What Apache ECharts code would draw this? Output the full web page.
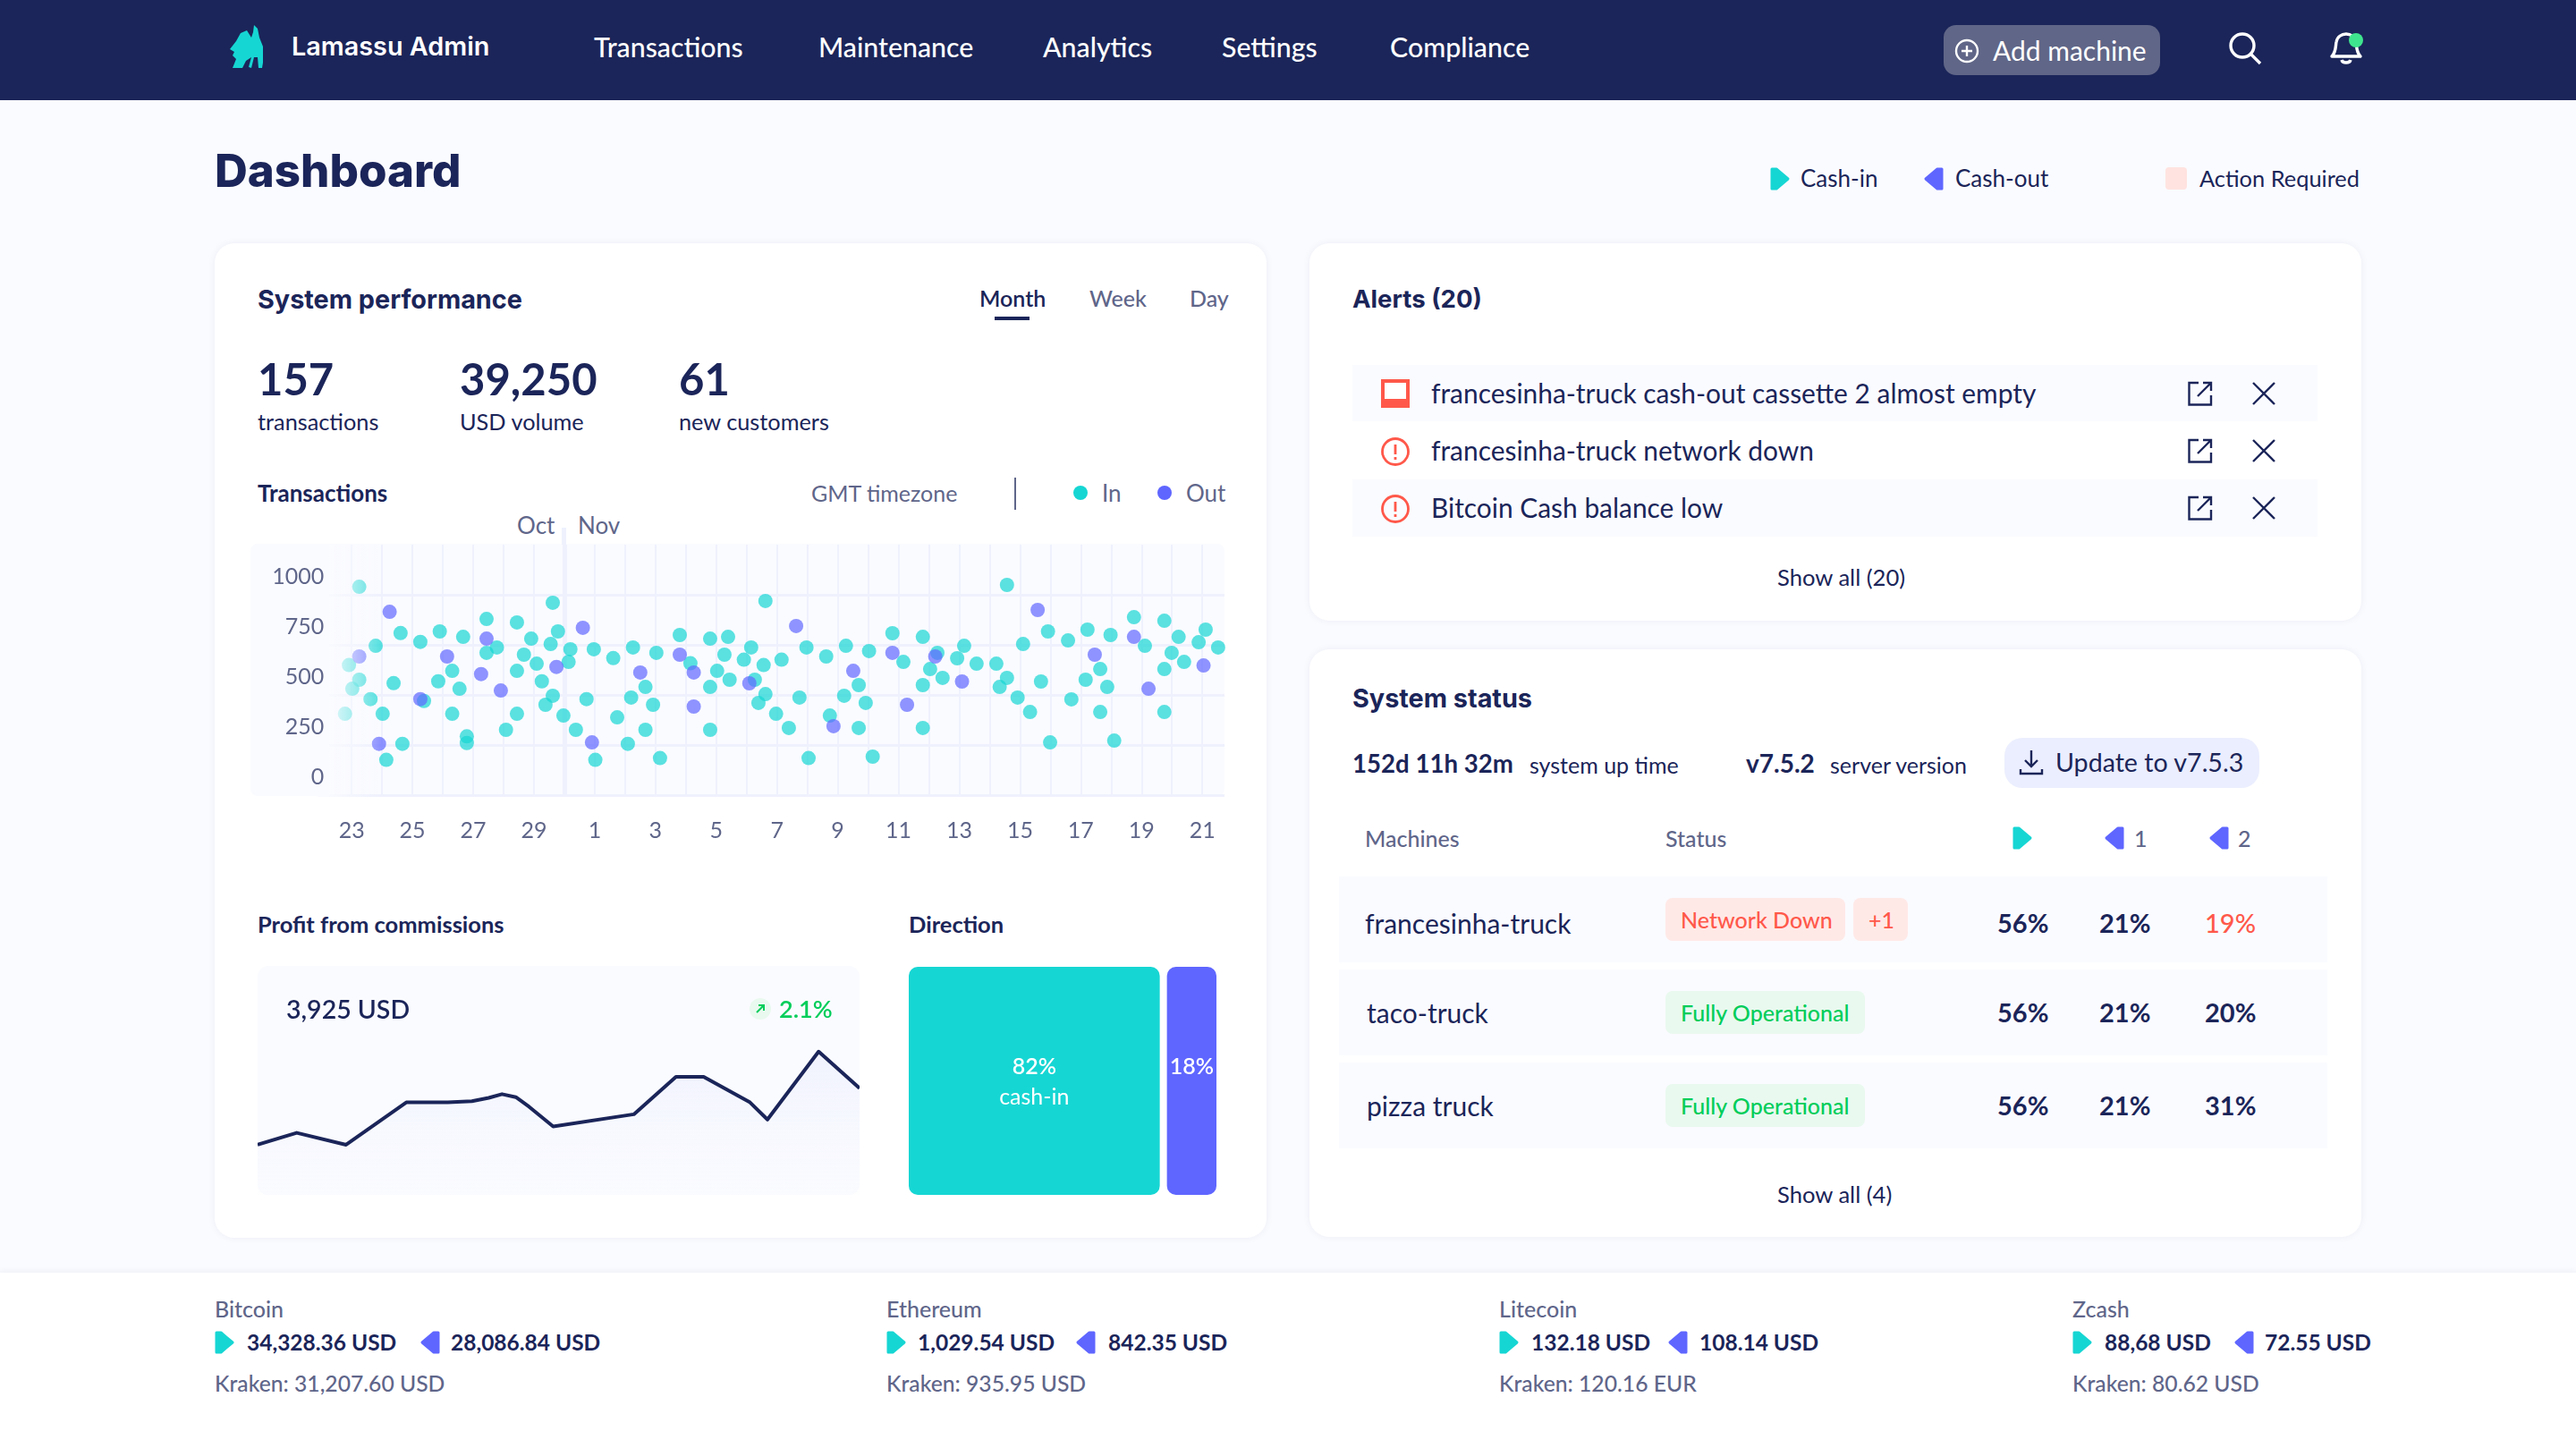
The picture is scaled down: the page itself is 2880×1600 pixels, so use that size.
<!DOCTYPE html>
<html><head><meta charset="utf-8">
<script src="https://cdn.jsdelivr.net/npm/echarts@6/dist/echarts.min.js"></script>
<style>
html,body{margin:0;padding:0;width:2880px;height:1600px;overflow:hidden;background:#fafbff;font-family:"Lato",sans-serif;color:#1b2559}
#root{position:absolute;left:0;top:0;width:2880px;height:1600px}
.b{position:absolute}
.t{position:absolute;white-space:nowrap;transform:translateY(-50%);line-height:1.2}
.card{position:absolute;background:#fff;border-radius:22px;box-shadow:0 0 8px rgba(27,37,89,.06)}
svg{position:absolute;overflow:visible}
</style></head><body><div id="root"></div>
<div id="scatterChart" class="b" style="left:270px;top:570px;width:1120px;height:400px;z-index:5"></div>
<div id="profitChart" class="b" style="left:288px;top:1080px;width:673px;height:256px;z-index:5"></div>
<div id="directionChart" class="b" style="left:1016px;top:1081px;width:344px;height:255px;z-index:5"></div>
<script>
// ---- data ----
const navItems = ['Transactions','Maintenance','Analytics','Settings','Compliance'];
const yTicks = [0,250,500,750,1000];
const dayLabels = ['23','25','27','29','1','3','5','7','9','11','13','15','17','19','21'];
const cashIn = [[-0.22,406],[-0.09,649],[0.02,531],[0.25,1040],[0.25,576],[0.62,479],[0.79,745],[1.02,406],[1.14,176],[1.38,559],[1.61,809],[1.67,256],[2.26,765],[2.38,470],[2.85,568],[2.90,817],[3.31,620],[3.31,406],[3.55,531],[3.67,790],[3.79,293],[3.79,260],[4.44,879],[4.44,710],[4.78,737],[5.08,326],[5.44,862],[5.44,620],[5.44,406],[5.67,701],[5.91,781],[6.09,656],[6.26,568],[6.38,451],[6.55,754],[6.62,960],[6.62,496],[6.79,817],[6.97,397],[7.14,665],[7.20,728],[7.38,326],[7.73,479],[7.97,728],[8.02,176],[8.61,684],[8.74,388],[9.09,256],[9.20,487],[9.26,737],[9.67,540],[9.67,326],[9.92,451],[10.03,710],[10.15,185],[10.80,799],[11.15,658],[11.80,781],[11.80,540],[11.80,326],[12.03,620],[12.27,701],[12.39,790],[12.44,576],[12.91,676],[13.15,737],[13.27,576],[13.39,460],[13.56,649],[13.62,969],[13.62,504],[13.97,406],[14.15,676],[14.39,335],[14.74,487],[14.97,737],[15.04,185],[15.62,692],[15.74,397],[16.21,496],[16.27,745],[16.69,549],[16.69,335],[16.92,460],[17.03,719],[17.15,192],[17.80,808],[18.16,665],[18.80,790],[18.80,549],[18.80,335],[19.04,629],[19.28,710],[19.45,585],[19.93,683],[20.16,745],[20.57,656],[21.22,656],[21.33,540],[21.57,1049],[21.57,585],[21.92,487],[22.10,754],[22.33,415],[22.69,567],[22.92,817],[22.99,263],[23.58,772],[23.69,478],[24.16,576],[24.22,826],[24.64,629],[24.64,415],[24.87,540],[24.98,799],[25.10,272],[25.75,888],[26.11,745],[26.75,870],[26.75,629],[26.75,415],[26.99,710],[27.22,790],[27.40,665],[27.88,763],[28.11,826],[28.52,737]];
const cashOut = [[0.25,692],[0.90,256],[1.25,915],[2.26,479],[3.14,692],[4.26,604],[4.44,781],[4.91,522],[6.74,640],[7.61,835],[7.91,263],[9.50,612],[10.80,701],[11.26,612],[11.26,442],[13.09,558],[14.63,844],[15.86,344],[16.51,620],[17.80,710],[18.28,451],[19.21,692],[20.09,567],[22.58,924],[24.46,701],[25.75,790],[26.23,531],[28.04,647]];
const monthBoundaryDay = 7;
const profitX = [0,6.5,14.7,24.7,31.6,35.6,38.4,40.6,42.9,45.1,49.1,62.5,69.5,74.1,81.8,84.7,93.2,100];
const profitY = [21.9,27.1,21.9,40.4,40.4,40.9,42.4,44,42.7,38.5,29.9,35.2,51.6,51.6,40.4,32.9,62.6,46.6];
const directionNames = ['cash-in','cash-out'];
const directionValues = [82,18];
const coins = [
 {name:'Bitcoin',x:240,inX:276,outIcon:471,outX:504,cin:'34,328.36 USD',cout:'28,086.84 USD',kraken:'Kraken: 31,207.60 USD'},
 {name:'Ethereum',x:991,inX:1026,outIcon:1204,outX:1239,cin:'1,029.54 USD',cout:'842.35 USD',kraken:'Kraken: 935.95 USD'},
 {name:'Litecoin',x:1676,inX:1712,outIcon:1866,outX:1900,cin:'132.18 USD',cout:'108.14 USD',kraken:'Kraken: 120.16 EUR'},
 {name:'Zcash',x:2317,inX:2353,outIcon:2499,outX:2532,cin:'88,68 USD',cout:'72.55 USD',kraken:'Kraken: 80.62 USD'}];
const machines = [
 {name:'francesinha-truck',x:1526,cy:1032,c0:'56%',c1:'21%',c2:'19%'},
 {name:'taco-truck',x:1528,cy:1132,c0:'56%',c1:'21%',c2:'20%'},
 {name:'pizza truck',x:1528,cy:1236,c0:'56%',c1:'21%',c2:'31%'}];
const alerts = ['francesinha-truck cash-out cassette 2 almost empty','francesinha-truck network down','Bitcoin Cash balance low'];

// ---- colours ----
const NAVY='#1b2559',GREY='#5f668a',TEAL='#16d6d3',BLUE='#5f66ff',RED='#ff584a',GREEN='#00cd5a',PANEL='#fafbff',LINE='#eff1fd';
const HEAD='font-family:Inter;';
const root=document.getElementById('root');
function box(x,y,w,h,bg,r,extra){const d=document.createElement('div');d.className='b';d.style.cssText=`left:${x}px;top:${y}px;width:${w}px;height:${h}px;background:${bg};border-radius:${r||0}px;${extra||''}`;root.appendChild(d);return d;}
function card(x,y,w,h){const d=document.createElement('div');d.className='card';d.style.cssText=`left:${x}px;top:${y}px;width:${w}px;height:${h}px`;root.appendChild(d);}
function txt(x,cy,s,size,weight,color,extra){const d=document.createElement('div');d.className='t';d.textContent=s;d.style.cssText=`left:${x}px;top:${cy}px;font-size:${size}px;font-weight:${weight||400};color:${color||NAVY};${extra||''}`;root.appendChild(d);return d;}
function svg(x,y,w,h,inner){const s=document.createElement('div');s.className='b';s.style.cssText=`left:${x}px;top:${y}px;width:${w}px;height:${h}px`;s.innerHTML=`<svg width="${w}" height="${h}" viewBox="0 0 ${w} ${h}" style="left:0;top:0">${inner}</svg>`;root.appendChild(s);return s;}
function triIn(x,cy){svg(x,cy-13,22,26,`<path d="M2 2 L7 2 L20 13 L7 24 L2 24 Z" fill="${TEAL}" stroke="${TEAL}" stroke-width="3" stroke-linejoin="round"/>`);}
function triOut(x,cy){svg(x,cy-13,22,26,`<path d="M20 2 L15 2 L2 13 L15 24 L20 24 Z" fill="${BLUE}" stroke="${BLUE}" stroke-width="3" stroke-linejoin="round"/>`);}
function extIcon(x,cy){svg(x-14,cy-14,28,28,`<path d="M12 2 H1.5 V26.5 H26 V16" fill="none" stroke="${NAVY}" stroke-width="2.4"/><path d="M11 17 L25 3 M17 2 H26 V11" fill="none" stroke="${NAVY}" stroke-width="2.4"/>`);}
function xIcon(x,cy){svg(x-14,cy-14,28,28,`<path d="M2 2 L26 26 M26 2 L2 26" stroke="${NAVY}" stroke-width="2.4"/>`);}
function warnIcon(x,cy){svg(x-16,cy-16,32,32,`<circle cx="16" cy="16" r="14.5" fill="none" stroke="${RED}" stroke-width="2.8"/><path d="M16 8 V19 M16 22 V25" stroke="${RED}" stroke-width="2.8"/>`);}

// ---- nav ----
box(0,0,2880,112,NAVY);
svg(257,28,38,48,`<path d="M27 0 L31 4 L33 14 L37 24 L37 42 L36 48 L32 48 L31 36 L27 36 L24 48 L21 47 L24 36 L18 40 L14 48 L3 48 L7 38 L3 34 L5 30 L0 27 L7 18 L12 9 L19 6 L24 14 L26 8 Z" fill="${TEAL}"/>`);
txt(326,52,'Lamassu Admin',28.8,600,'#fff',HEAD);
[664,915,1166,1366,1554].forEach((x,i)=>txt(x,52,navItems[i],30.3,500,'#fff'));
box(2173,28,242,56,'#606687',14);
svg(2185,43,28,28,`<circle cx="14" cy="14" r="12" fill="none" stroke="#fff" stroke-width="2.4"/><path d="M14 8 V20 M8 14 H20" stroke="#fff" stroke-width="2.4"/>`);
txt(2228,56,'Add machine',30,400,'#fff');
svg(2492,36,38,38,`<circle cx="15" cy="15" r="13" fill="none" stroke="#fff" stroke-width="3.4"/><path d="M25 25 L35 35" stroke="#fff" stroke-width="3.4"/>`);
svg(2604,34,40,40,`<path d="M3 29 C8 24 7 18 8 13 C9 7 14 4 19 4 C24 4 29 7 30 13 C31 18 30 24 35 29 Z" fill="none" stroke="#fff" stroke-width="3.4" stroke-linejoin="round"/><path d="M14 33 C15 37 23 37 24 33" fill="none" stroke="#fff" stroke-width="3.4"/><circle cx="30" cy="11" r="8" fill="#3fe58e"/>`);

// ---- title + key ----
txt(240,191,'Dashboard',51,800,NAVY,HEAD);
triIn(1979,200);txt(2013,200,'Cash-in',26,400);
triOut(2151,200);txt(2186,200,'Cash-out',26,400);
box(2421,187,24,25,'#ffe3e0',4);txt(2459,199,'Action Required',25.4,400);

// ---- cards ----
card(240,272,1176,1112);card(1464,272,1176,422);card(1464,726,1176,657);

// ---- system performance ----
txt(288,335,'System performance',28.8,700,NAVY,HEAD);
txt(1095,333,'Month',25,600);txt(1218,333,'Week',25,500,GREY);txt(1330,333,'Day',25,500,GREY);
box(1112,354,39,4,NAVY);
txt(288,423,'157',49,700);txt(514,423,'39,250',49,700);txt(759,423,'61',49,700);
txt(288,471,'transactions',25.3);txt(514,471,'USD volume',25.3);txt(759,471,'new customers',25.3);
txt(288,552,'Transactions',26,700);
txt(907,551,'GMT timezone',25,400,GREY);box(1134,534,2,36,GREY);
box(1200,543,16,16,TEAL,8);txt(1232,552,'In',26,400,GREY);
box(1294,543,16,16,BLUE,8);txt(1326,552,'Out',26,400,GREY);
txt(578,588,'Oct',26,400,GREY);txt(646,588,'Nov',26,400,GREY);
box(280,608,1089,282,PANEL,8);
box(628,590,5,19,LINE);

// ---- profit + direction ----
txt(288,1033,'Profit from commissions',25.5,700);txt(1016,1033,'Direction',25.5,700);
box(288,1080,673,256,PANEL,12);
txt(320,1128,'3,925 USD',28.5,600).style.zIndex=6;
svg(838,1116,24,24,`<circle cx="12" cy="12" r="12" fill="#e9f9ef"/><path d="M8 16 L16 8 M10 8 H16 V14" fill="none" stroke="${GREEN}" stroke-width="2"/>`).style.zIndex=6;
txt(871,1128,'2.1%',27,600,GREEN).style.zIndex=6;

// ---- alerts ----
txt(1512,335,'Alerts (20)',27.6,700,NAVY,HEAD);
box(1512,408,1079,63,PANEL);box(1512,536,1079,64,PANEL);
svg(1544,424,32,32,`<rect width="32" height="32" fill="${RED}"/><rect x="4" y="4" width="24" height="18" fill="#fff"/>`);
warnIcon(1560,505);warnIcon(1560,569);
[440,504,568].forEach((cy,i)=>{txt(1600,cy,alerts[i],29.9);extIcon(2460,cy);xIcon(2531,cy);});
txt(1987,645,'Show all (20)',25.6);

// ---- system status ----
txt(1512,781,'System status',28.8,700,NAVY,HEAD);
txt(1512,854,'152d 11h 32m',27.6,700);txt(1710,855,'system up time',25);
txt(1952,854,'v7.5.2',28,700);txt(2046,855,'server version',25);
box(2241,825,285,56,'#ebeefe',20);
svg(2258,839,26,28,`<path d="M13 0 V18 M6 11 L13 18 L20 11 M1 21 V26 H25 V21" fill="none" stroke="${NAVY}" stroke-width="2.4"/>`);
txt(2298,852,'Update to v7.5.3',28.6);
txt(1526,937,'Machines',25,500,GREY);txt(1862,937,'Status',25,500,GREY);
triIn(2250,937);triOut(2353,937);txt(2386,937,'1',25,500,GREY);triOut(2470,937);txt(2502,937,'2',25,500,GREY);
[[980,96],[1084,96],[1188,96]].forEach(r=>box(1497,r[0],1105,r[1],PANEL));
machines.forEach(m=>{txt(m.x,m.cy,m.name,30);txt(2233,m.cy,m.c0,29,700);txt(2347,m.cy,m.c1,29,700);
 txt(2465,m.cy,m.c2,29,m.c2==='19%'?500:700,m.c2==='19%'?RED:NAVY);});
box(1862,1004,201,48,'#ffe9e7',8);txt(1879,1028,'Network Down',25,500,RED);
box(2072,1004,61,48,'#ffe9e7',8);txt(2089,1028,'+1',25,500,RED);
box(1862,1108,223,48,'#e9f9ef',8);txt(1879,1132,'Fully Operational',25,500,GREEN);
box(1862,1212,223,48,'#e9f9ef',8);txt(1879,1236,'Fully Operational',25,500,GREEN);
txt(1987,1335,'Show all (4)',25.6);

// ---- footer ----
box(0,1423,2880,177,'#fff',0,'box-shadow:0 -2px 6px rgba(27,37,89,.05)');
coins.forEach(c=>{txt(c.x,1463,c.name,25,500,GREY);triIn(c.x,1501);txt(c.inX,1501,c.cin,24.5,700);triOut(c.outIcon-1,1501);txt(c.outX,1501,c.cout,24.5,700);txt(c.x,1547,c.kraken,24.7,500,GREY);});

// ---- scatter ----
const sc=echarts.init(document.getElementById('scatterChart'),null,{renderer:'canvas'});
const labelFont={color:GREY,fontSize:25,fontFamily:'Lato'};
sc.setOption({animation:false,
 grid:{left:89.2,top:39,width:1009.8,height:280},
 xAxis:{type:'value',min:-1,max:28.73,interval:1,axisLine:{show:false},axisTick:{show:false},
  splitLine:{show:true,showMinLine:false,showMaxLine:false,lineStyle:{color:LINE,width:2}},
  axisLabel:{...labelFont,margin:27,hideOverlap:false,formatter:v=>{if(v<0||v!==Math.round(v)||v%2)return '';const s=dayLabels[v/2];return s||'';}}},
 yAxis:[{type:'value',min:0,max:1250,interval:250,axisLine:{show:false},axisTick:{show:false},axisLabel:{show:false},
   splitLine:{show:true,showMaxLine:false,lineStyle:{color:LINE,width:3}}},
  {type:'value',min:0,max:1250,interval:250,position:'left',z:20,axisLine:{show:false},axisTick:{show:false},splitLine:{show:false},
   axisLabel:{...labelFont,margin:-3,verticalAlign:'bottom',lineHeight:24,padding:[0,0,8,0],showMaxLabel:false,formatter:v=>yTicks.includes(v)?String(v):''}}],
 graphic:{elements:[
  {type:'rect',z:10,silent:true,shape:{x:85,y:39,width:13,height:282},style:{fill:PANEL}},
  {type:'rect',z:10,silent:true,shape:{x:98,y:39,width:57,height:282},style:{fill:new echarts.graphic.LinearGradient(0,0,1,0,[{offset:0,color:'rgba(250,251,255,0.88)'},{offset:1,color:'rgba(250,251,255,0)'}])}}]},
 series:[
  {type:'scatter',name:'In',z:3,data:cashIn,symbolSize:16,itemStyle:{color:TEAL,opacity:.7},
   markLine:{z:1,silent:true,symbol:'none',label:{show:false},animation:false,lineStyle:{color:LINE,width:5,type:'solid'},data:[[{coord:[monthBoundaryDay,0]},{coord:[monthBoundaryDay,1250]}]]}},
  {type:'scatter',name:'Out',z:4,data:cashOut,symbolSize:16,itemStyle:{color:BLUE,opacity:.7}}]});

// ---- profit ----
const pc=echarts.init(document.getElementById('profitChart'));
pc.setOption({animation:false,grid:{left:0,right:0,top:0,bottom:0},
 xAxis:{type:'value',min:0,max:100,show:false},yAxis:{type:'value',min:0,max:100,show:false},
 series:[{type:'line',data:profitX.map((x,i)=>[x,profitY[i]]),showSymbol:false,symbol:'none',lineStyle:{color:NAVY,width:4,join:'round'},
  areaStyle:{color:new echarts.graphic.LinearGradient(0,0,0,1,[{offset:0,color:'#ebeefd'},{offset:1,color:'rgba(250,251,255,0.3)'}])}}]});

// ---- direction ----
const dc=echarts.init(document.getElementById('directionChart'));
dc.setOption({animation:false,series:[{type:'treemap',left:0,top:0,right:0,bottom:0,width:'100%',height:'100%',roam:false,nodeClick:false,
 breadcrumb:{show:false},
 levels:[{itemStyle:{gapWidth:8,borderWidth:0,borderRadius:10}}],
 label:{show:true,position:['50%','50%'],align:'center',verticalAlign:'middle',overflow:'none',padding:[95,0,0,0],color:'#fff',fontFamily:'Lato',fontSize:25,fontWeight:600,lineHeight:34,
  formatter:p=>p.data.name==='cash-in'?p.value+'%\n{l|cash-in}':p.value+'%',rich:{l:{color:'#fff',fontFamily:'Lato',fontSize:25,fontWeight:400,lineHeight:34}}},
 data:[{name:directionNames[0],value:directionValues[0],itemStyle:{color:TEAL,borderRadius:10}},{name:directionNames[1],value:directionValues[1],itemStyle:{color:BLUE,borderRadius:10}}]}]});
</script></body></html>
